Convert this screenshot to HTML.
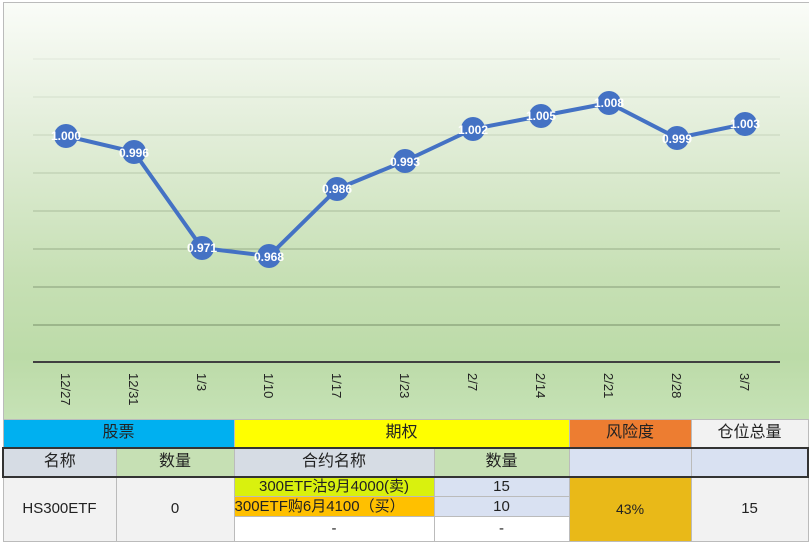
<!DOCTYPE html>
<html><head><meta charset="utf-8"><style>
body{margin:0;width:809px;height:544px;overflow:hidden;background:#fff;font-family:"Liberation Sans","Noto Sans CJK SC",sans-serif;}
.chart{position:absolute;left:3px;top:2px;width:806px;height:417px;background:linear-gradient(#fafcf8 0%,#e3eeda 30%,#c7e0b5 65%,#bcdba8 85%,#c6e2b6 100%);border-top:1px solid #bbb;border-left:1px solid #bbb;}
table{position:absolute;left:2px;top:419px;width:805px;table-layout:fixed;border-collapse:collapse;font-size:15px;color:#222;}
td{text-align:center;padding:0;border:1px solid #bbb;line-height:16px;}
</style></head><body>
<div class="chart"></div>
<svg width="809" height="420" style="position:absolute;left:0;top:0">
<line x1="33" x2="780" y1="59" y2="59" stroke="#dfe6da"/>
<line x1="33" x2="780" y1="97" y2="97" stroke="#d4dfcc"/>
<line x1="33" x2="780" y1="135" y2="135" stroke="#c6d4bc"/>
<line x1="33" x2="780" y1="173" y2="173" stroke="#b8c9ac"/>
<line x1="33" x2="780" y1="211" y2="211" stroke="#a8bc9b"/>
<line x1="33" x2="780" y1="249" y2="249" stroke="#97ad89"/>
<line x1="33" x2="780" y1="287" y2="287" stroke="#869d78"/>
<line x1="33" x2="780" y1="325" y2="325" stroke="#778f69"/>
<line x1="33" x2="780" y1="362" y2="362" stroke="#404040" stroke-width="2"/>
<polyline fill="none" stroke="#4472c4" stroke-width="4" stroke-linejoin="round" points="66,136 134,152 202,248 269,256 337,189 405,161 473,129 541,116 609,103 677,138 745,124"/>
<g fill="#4472c4">
<circle cx="66" cy="136" r="12"/><circle cx="134" cy="152" r="12"/><circle cx="202" cy="248" r="12"/><circle cx="269" cy="256" r="12"/><circle cx="337" cy="189" r="12"/><circle cx="405" cy="161" r="12"/><circle cx="473" cy="129" r="12"/><circle cx="541" cy="116" r="12"/><circle cx="609" cy="103" r="12"/><circle cx="677" cy="138" r="12"/><circle cx="745" cy="124" r="12"/>
</g>
<g fill="#fff" font-size="12" font-weight="bold" text-anchor="middle" font-family="Liberation Sans,sans-serif">
<text x="66" y="140">1.000</text><text x="134" y="157">0.996</text><text x="202" y="252">0.971</text><text x="269" y="261">0.968</text><text x="337" y="193">0.986</text><text x="405" y="166">0.993</text><text x="473" y="134">1.002</text><text x="541" y="120">1.005</text><text x="609" y="107">1.008</text><text x="677" y="143">0.999</text><text x="745" y="128">1.003</text>
</g>
<g fill="#222" font-size="13" font-family="Liberation Sans,sans-serif">
<text transform="translate(61,373) rotate(90)">12/27</text>
<text transform="translate(129,373) rotate(90)">12/31</text>
<text transform="translate(197,373) rotate(90)">1/3</text>
<text transform="translate(264,373) rotate(90)">1/10</text>
<text transform="translate(332,373) rotate(90)">1/17</text>
<text transform="translate(400,373) rotate(90)">1/23</text>
<text transform="translate(468,373) rotate(90)">2/7</text>
<text transform="translate(536,373) rotate(90)">2/14</text>
<text transform="translate(604,373) rotate(90)">2/21</text>
<text transform="translate(672,373) rotate(90)">2/28</text>
<text transform="translate(740,373) rotate(90)">3/7</text>
</g>
</svg>
<table>
<colgroup><col style="width:113px"><col style="width:118px"><col style="width:200px"><col style="width:135px"><col style="width:122px"><col style="width:117px"></colgroup>
<tr style="height:28px"><td colspan="2" style="background:#00b0f0;font-size:16px">股票</td><td colspan="2" style="background:#ffff00;font-size:16px">期权</td><td style="background:#ed7d31;font-size:16px">风险度</td><td style="background:#f2f2f2;font-size:16px">仓位总量</td></tr>
<tr style="height:29px;border:2px solid #333"><td style="background:#d6dce4;font-size:16px">名称</td><td style="background:#c6e0b4;font-size:16px">数量</td><td style="background:#d6dce4;font-size:16px">合约名称</td><td style="background:#c6e0b4;font-size:16px">数量</td><td style="background:#d9e1f2"></td><td style="background:#d9e1f2"></td></tr>
<tr style="height:20px"><td rowspan="3" style="background:#f2f2f2">HS300ETF</td><td rowspan="3" style="background:#f2f2f2">0</td><td style="background:#d9f10e">300ETF沽9月4000(卖)</td><td style="background:#d9e1f2">15</td><td rowspan="3" style="background:#e9b918;font-size:14px">43%</td><td rowspan="3" style="background:#f2f2f2">15</td></tr>
<tr style="height:20px"><td style="background:#ffc000;text-align:left">300ETF购6月4100（买）</td><td style="background:#d9e1f2">10</td></tr>
<tr style="height:25px"><td style="background:#fff">-</td><td style="background:#fff">-</td></tr>
</table>
</body></html>
